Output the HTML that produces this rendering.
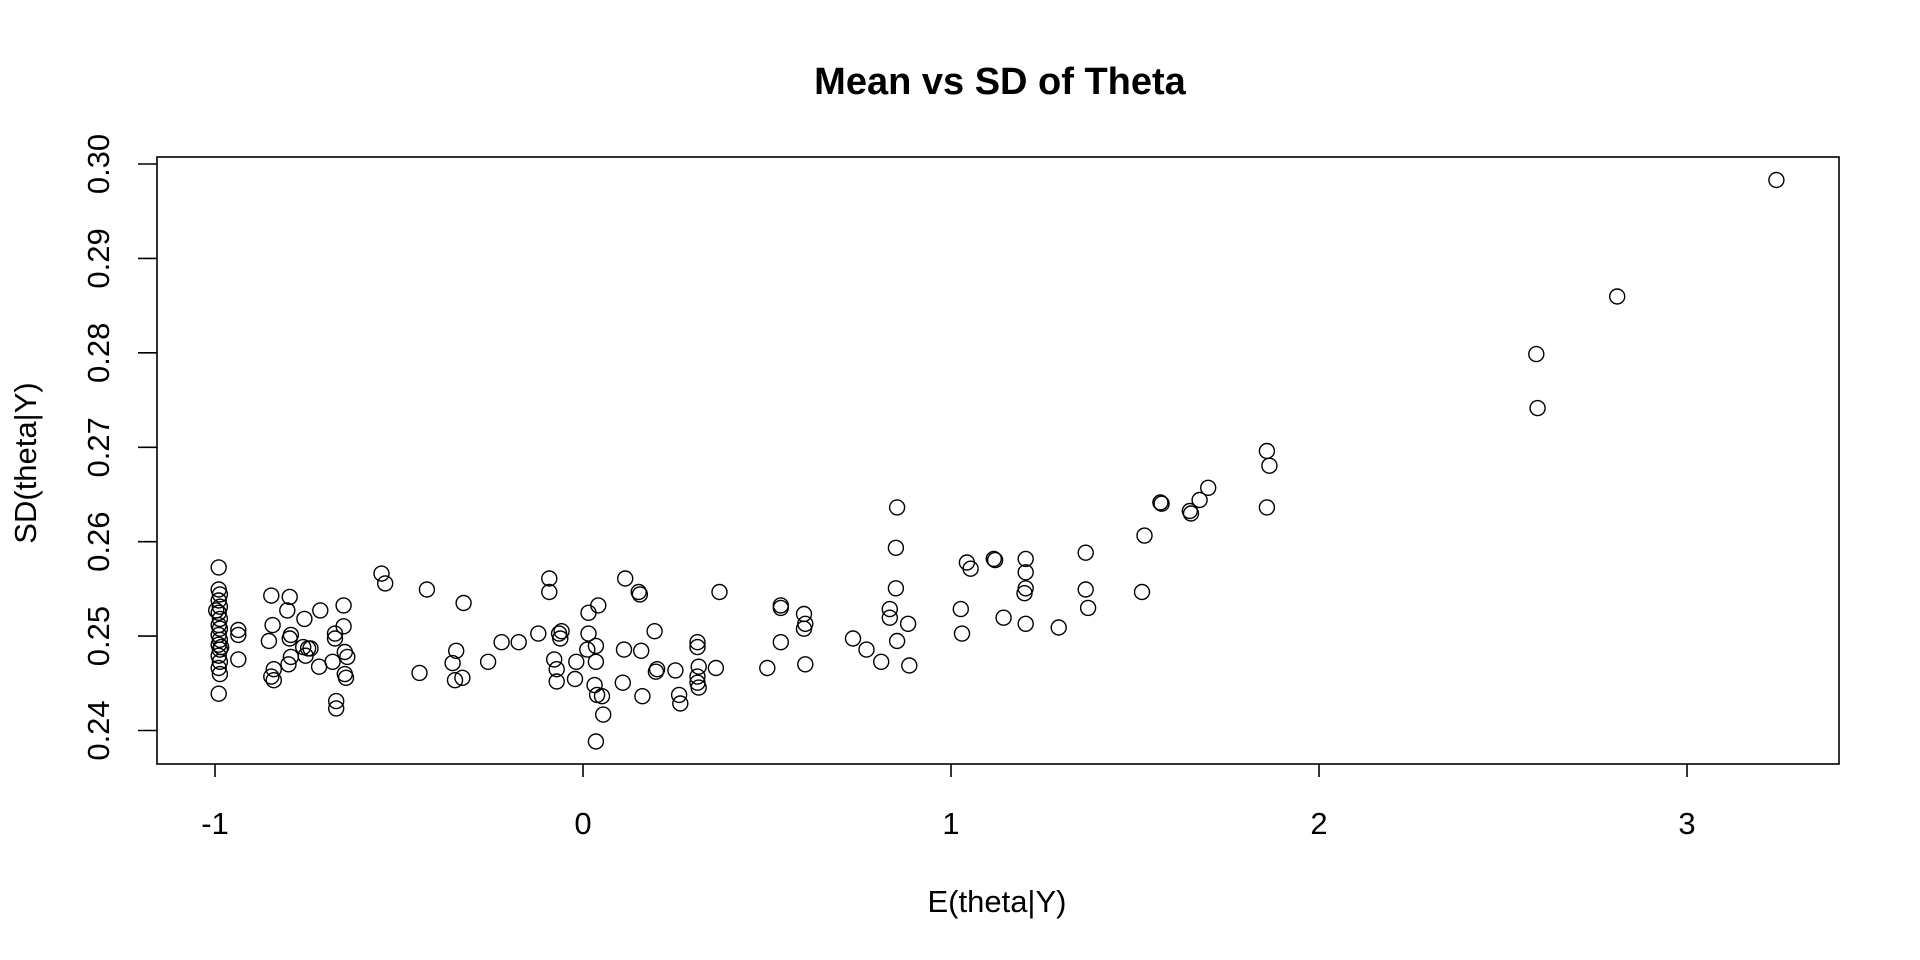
<!DOCTYPE html>
<html><head><meta charset="utf-8"><style>
html,body{margin:0;padding:0;background:#fff;}
svg{display:block;font-family:"Liberation Sans",Arial,sans-serif;}
</style></head><body>
<svg id="s" width="1920" height="960" xmlns="http://www.w3.org/2000/svg">
<rect x="0" y="0" width="1920" height="960" fill="#fff"/>
<text x="1000" y="94" text-anchor="middle" font-size="38" font-weight="bold">Mean vs SD of Theta</text>
<rect x="157" y="157" width="1682" height="607" fill="none" stroke="#000" stroke-width="1.6"/>
<g stroke="#000" stroke-width="1.6">
<line x1="215" y1="764" x2="215" y2="777"/>
<line x1="583" y1="764" x2="583" y2="777"/>
<line x1="951" y1="764" x2="951" y2="777"/>
<line x1="1319" y1="764" x2="1319" y2="777"/>
<line x1="1687" y1="764" x2="1687" y2="777"/>
<line x1="157" y1="730.5" x2="138" y2="730.5"/>
<line x1="157" y1="636.1" x2="138" y2="636.1"/>
<line x1="157" y1="541.7" x2="138" y2="541.7"/>
<line x1="157" y1="447.3" x2="138" y2="447.3"/>
<line x1="157" y1="352.8" x2="138" y2="352.8"/>
<line x1="157" y1="258.4" x2="138" y2="258.4"/>
<line x1="157" y1="164" x2="138" y2="164"/>
</g>
<g font-size="31" text-anchor="middle">
<text x="215" y="834">-1</text><text x="583" y="834">0</text><text x="951" y="834">1</text><text x="1319" y="834">2</text><text x="1687" y="834">3</text>
<text transform="translate(109,730.5) rotate(-90)">0.24</text>
<text transform="translate(109,636.1) rotate(-90)">0.25</text>
<text transform="translate(109,541.7) rotate(-90)">0.26</text>
<text transform="translate(109,447.3) rotate(-90)">0.27</text>
<text transform="translate(109,352.8) rotate(-90)">0.28</text>
<text transform="translate(109,258.4) rotate(-90)">0.29</text>
<text transform="translate(109,164) rotate(-90)">0.30</text>
<text x="997" y="912">E(theta|Y)</text>
<text transform="translate(36,463) rotate(-90)">SD(theta|Y)</text>
</g>
<g id="pts" fill="none" stroke="#000" stroke-width="1.4"></g>
</svg>
<script>
var d=[[179,463],[179,481],[180,485],[179,490],[180,495],[179,500],[180,505],[179,510],[180,513],[179,518],[180,522],[179,526],[180,530],[179,535],[180,540],[179,545],[180,550],[179,566],[177,498],[181,528],
[195,514],[195,518],[195,538],[222,486],[223,510],[220,523],[224,546],[222,552],[224,555],[237,487],[235,498],[238,518],[237,521],[238,536],[236,542],
[249,505],[248,528],[252,529],[254,529],[250,535],[262,498],[261,544],[281,494],[281,511],[282,532],[284,536],[282,550],[283,553],[274,517],[274,521],[272,540],[275,572],[275,578],
[312,468],[315,476],[349,481],[343,549],[370,541],[373,531],[372,555],[378,553],[379,492],[399,540],[410,524],[424,524],[440,517],[449,472],[449,483],[453,538],[455,546],[455,556],[457,517],[459,515],[458,521],[471,540],[470,554],[480,530],[481,517],[481,500],[487,605],[486,559],[488,567],[487,540],[487,527],[489,494],[492,568],[493,583],[509,557],[511,472],[510,530],[522,483],[523,485],[524,531],[525,568],[535,515],[536,548],[537,546],[552,547],[555,567],[556,574],[570,524],[570,528],[571,544],[570,552],[570,557],[571,561],[585,545],[588,483],[627,545],[638,494],[638,496],[638,524],[657,501],[658,509],[657,513],[658,542],[697,521],[708,530],[720,540],[727,497],[727,504],[733,414],[732,447],[732,480],[733,523],[742,509],[743,543],[785,497],[786,517],[790,459],[793,464],[812,456],[813,457],[820,504],[838,456],[838,467],[838,480],[837,484],[838,509],[865,512],[887,451],[887,481],[889,496],[935,437],[933,483],[949,411],[948,410],[972,417],[973,419],[980,408],[987,398],[1035,368],[1037,380],[1035,414],[1255,289],[1256,333],[1321,242],[1451,147]];
var g=document.getElementById('pts'),h='';
d.forEach(function(p){var x=215+(p[0]-176)*1.2246,y=730.5+(p[1]-596)*1.226;h+='<circle cx="'+x.toFixed(1)+'" cy="'+y.toFixed(1)+'" r="7.5"/>';});
g.innerHTML=h;
</script>
</body></html>
